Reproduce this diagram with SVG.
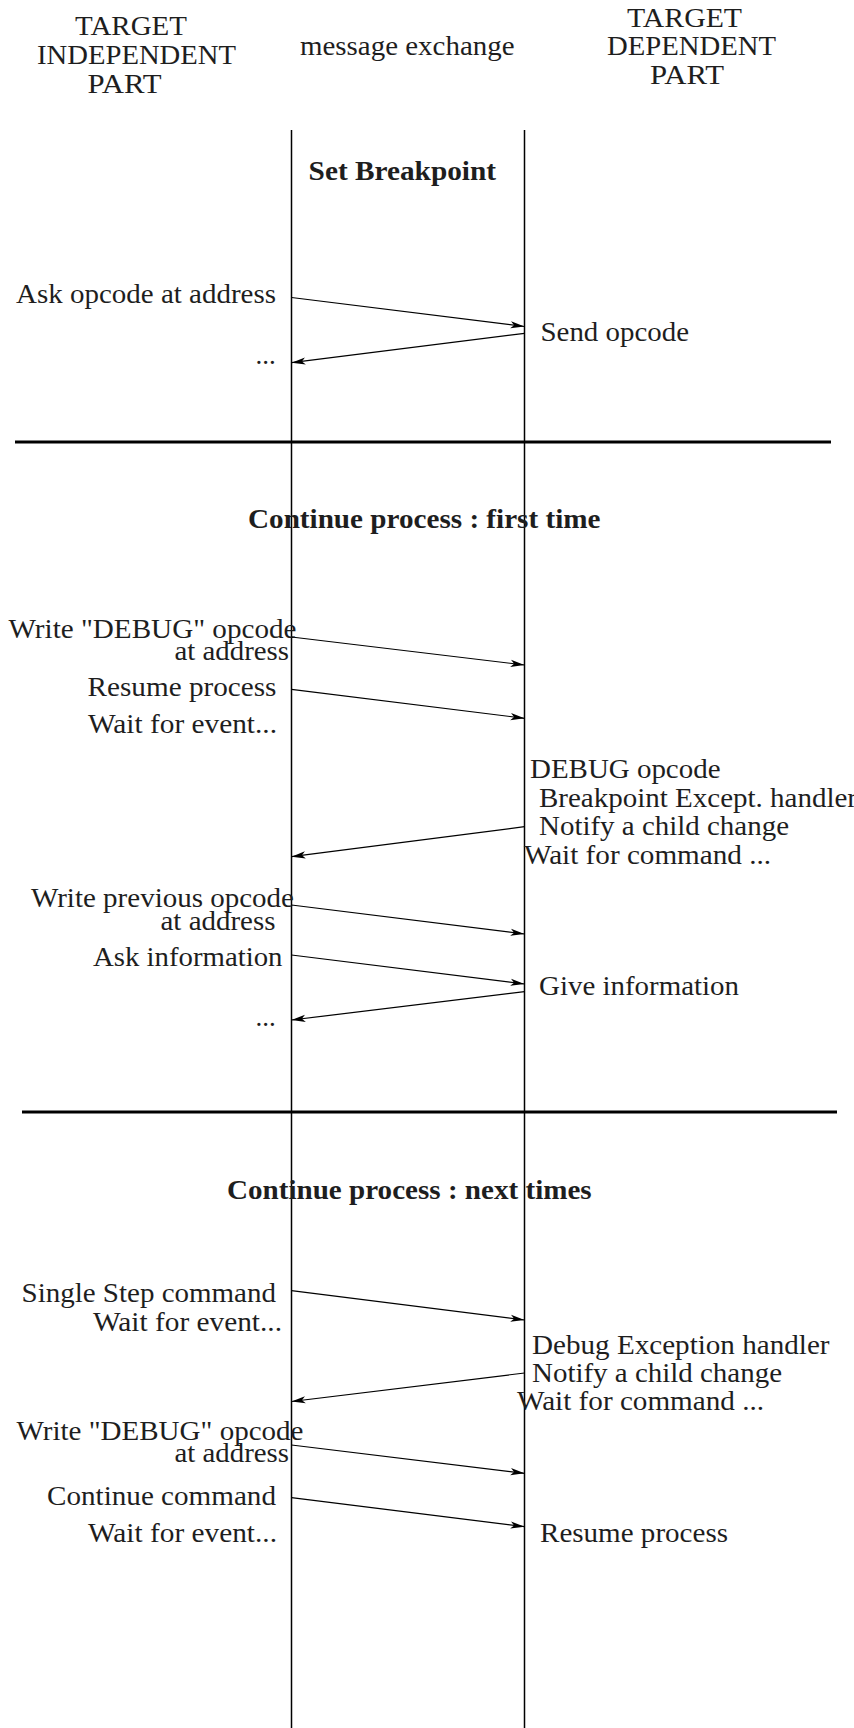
<svg xmlns="http://www.w3.org/2000/svg" width="854" height="1728" viewBox="0 0 854 1728" font-family="'Liberation Serif', 'Times New Roman', Times, serif">
<style>
text{font-family:'Liberation Serif','Times New Roman',Times,serif;font-size:27px;fill:#1e1e1e}
.b{font-weight:bold}
.life{stroke:#000;stroke-width:1.5;fill:none}
.sep{stroke:#000;stroke-width:3.2;fill:none}
.msg{stroke:#000;stroke-width:1.2;fill:none;marker-end:url(#ah)}
</style>
<defs>
<marker id="ah" viewBox="-15 -5 16 10" refX="0" refY="0" markerWidth="16" markerHeight="10" markerUnits="userSpaceOnUse" orient="auto">
<path d="M0,0 L-14,-3.6 L-10.5,0 L-14,3.6 Z" fill="#000"/>
</marker>
</defs>
<rect width="854" height="1728" fill="#fff"/>

<g id="header-independent">
<text x="75" y="35" textLength="112" lengthAdjust="spacingAndGlyphs">TARGET</text>
<text x="37" y="64" textLength="199" lengthAdjust="spacingAndGlyphs">INDEPENDENT</text>
<text x="87.5" y="93" textLength="74" lengthAdjust="spacingAndGlyphs">PART</text>
</g>
<g id="header-exchange">
<text x="300" y="55" textLength="214.5" lengthAdjust="spacingAndGlyphs">message exchange</text>
</g>
<g id="header-dependent">
<text x="627" y="27" textLength="115" lengthAdjust="spacingAndGlyphs">TARGET</text>
<text x="607" y="55" textLength="169" lengthAdjust="spacingAndGlyphs">DEPENDENT</text>
<text x="650" y="84" textLength="74" lengthAdjust="spacingAndGlyphs">PART</text>
</g>

<g id="lifelines">
<line class="life" x1="291.5" y1="130" x2="291.5" y2="1728"/>
<line class="life" x1="524.5" y1="130" x2="524.5" y2="1728"/>
</g>
<g id="separators">
<line class="sep" x1="15" y1="442" x2="831" y2="442"/>
<line class="sep" x1="22" y1="1112" x2="837" y2="1112"/>
</g>

<g id="title-set-breakpoint">
<text class="b" x="308.6" y="180" textLength="187.4" lengthAdjust="spacingAndGlyphs">Set Breakpoint</text>
</g>
<g id="title-first-time">
<text class="b" x="248" y="528" textLength="352.5" lengthAdjust="spacingAndGlyphs">Continue process : first time</text>
</g>
<g id="title-next-times">
<text class="b" x="227" y="1199" textLength="364.7" lengthAdjust="spacingAndGlyphs">Continue process : next times</text>
</g>

<g id="s1-ask-opcode">
<text x="16" y="303" textLength="260" lengthAdjust="spacingAndGlyphs">Ask opcode at address</text>
</g>
<g id="s1-send-opcode">
<text x="540.5" y="341" textLength="148.5" lengthAdjust="spacingAndGlyphs">Send opcode</text>
</g>
<g id="s1-dots">
<text x="255.5" y="364">...</text>
</g>

<g id="s2-write-debug">
<text x="8.5" y="638" textLength="288" lengthAdjust="spacingAndGlyphs">Write "DEBUG" opcode</text>
<text x="174.5" y="660" textLength="114.5" lengthAdjust="spacingAndGlyphs">at address</text>
</g>
<g id="s2-resume">
<text x="87.5" y="696" textLength="189" lengthAdjust="spacingAndGlyphs">Resume process</text>
</g>
<g id="s2-wait-event">
<text x="88" y="733" textLength="189" lengthAdjust="spacingAndGlyphs">Wait for event...</text>
</g>
<g id="s2-debug-handler">
<text x="530" y="778" textLength="190.5" lengthAdjust="spacingAndGlyphs">DEBUG opcode</text>
<text x="539" y="806.5" textLength="318" lengthAdjust="spacingAndGlyphs">Breakpoint Except. handler</text>
<text x="539" y="835" textLength="250" lengthAdjust="spacingAndGlyphs">Notify a child change</text>
<text x="524" y="863.5" textLength="247" lengthAdjust="spacingAndGlyphs">Wait for command ...</text>
</g>
<g id="s2-write-previous">
<text x="31" y="906.5" textLength="263" lengthAdjust="spacingAndGlyphs">Write previous opcode</text>
<text x="160.5" y="930" textLength="115" lengthAdjust="spacingAndGlyphs">at address</text>
</g>
<g id="s2-ask-info">
<text x="93" y="966" textLength="189.5" lengthAdjust="spacingAndGlyphs">Ask information</text>
</g>
<g id="s2-give-info">
<text x="539" y="995" textLength="200" lengthAdjust="spacingAndGlyphs">Give information</text>
</g>
<g id="s2-dots">
<text x="255.5" y="1026">...</text>
</g>

<g id="s3-single-step">
<text x="21.5" y="1301.5" textLength="254.5" lengthAdjust="spacingAndGlyphs">Single Step command</text>
<text x="93" y="1330.5" textLength="189" lengthAdjust="spacingAndGlyphs">Wait for event...</text>
</g>
<g id="s3-debug-handler">
<text x="532" y="1353.5" textLength="297.5" lengthAdjust="spacingAndGlyphs">Debug Exception handler</text>
<text x="532" y="1381.5" textLength="250" lengthAdjust="spacingAndGlyphs">Notify a child change</text>
<text x="517" y="1410" textLength="247" lengthAdjust="spacingAndGlyphs">Wait for command ...</text>
</g>
<g id="s3-write-debug">
<text x="16.5" y="1440" textLength="287" lengthAdjust="spacingAndGlyphs">Write "DEBUG" opcode</text>
<text x="174.5" y="1461.5" textLength="114.5" lengthAdjust="spacingAndGlyphs">at address</text>
</g>
<g id="s3-continue">
<text x="47" y="1505" textLength="229" lengthAdjust="spacingAndGlyphs">Continue command</text>
<text x="88" y="1541.5" textLength="189" lengthAdjust="spacingAndGlyphs">Wait for event...</text>
</g>
<g id="s3-resume">
<text x="540" y="1541.5" textLength="188" lengthAdjust="spacingAndGlyphs">Resume process</text>
</g>

<g id="connectors">
<line class="msg" x1="291.5" y1="297.5" x2="524.5" y2="326.5"/>
<line class="msg" x1="524.5" y1="333.3" x2="291.5" y2="362.7"/>
<line class="msg" x1="291.5" y1="637" x2="524.5" y2="665"/>
<line class="msg" x1="291.5" y1="689.3" x2="524.5" y2="718.3"/>
<line class="msg" x1="524.5" y1="826.7" x2="291.5" y2="856.7"/>
<line class="msg" x1="291.5" y1="905" x2="524.5" y2="934"/>
<line class="msg" x1="291.5" y1="955" x2="524.5" y2="984"/>
<line class="msg" x1="524.5" y1="991.7" x2="291.5" y2="1020"/>
<line class="msg" x1="291.5" y1="1290.7" x2="524.5" y2="1320"/>
<line class="msg" x1="524.5" y1="1373" x2="291.5" y2="1401.5"/>
<line class="msg" x1="291.5" y1="1445" x2="524.5" y2="1473.3"/>
<line class="msg" x1="291.5" y1="1497.7" x2="524.5" y2="1526.7"/>
</g>
</svg>
